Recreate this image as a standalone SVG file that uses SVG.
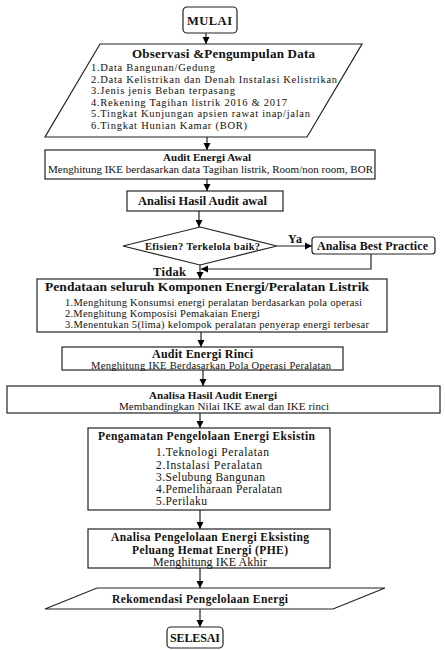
<svg xmlns="http://www.w3.org/2000/svg" width="445" height="650" viewBox="0 0 445 650">
<defs>
<marker id="ah" markerWidth="8" markerHeight="8" refX="7" refY="4" orient="auto" markerUnits="userSpaceOnUse">
<path d="M0,0.5 L7,4 L0,7.5 Z" fill="#000"/>
</marker>
<style>
.box{fill:#fff;stroke:#222;stroke-width:1.2}
.ln{fill:none;stroke:#222;stroke-width:1.2}
text{font-family:"Liberation Serif","Times New Roman",serif;fill:#111}
.b{font-weight:bold}
.c{text-anchor:middle}
</style>
</defs>
<rect width="445" height="650" fill="#fff"/>
<g id="connectors">
<line class="ln" x1="206" y1="33" x2="206" y2="44" marker-end="url(#ah)"/>
<line class="ln" x1="207" y1="137" x2="207" y2="150" marker-end="url(#ah)"/>
<line class="ln" x1="207" y1="179" x2="207" y2="191" marker-end="url(#ah)"/>
<line class="ln" x1="199" y1="211" x2="199" y2="227" marker-end="url(#ah)"/>
<line class="ln" x1="277" y1="246" x2="312" y2="246" marker-end="url(#ah)"/>
<polyline class="ln" points="371,254 371,269 201,269" marker-end="url(#ah)"/>
<line class="ln" x1="200" y1="265" x2="200" y2="279" marker-end="url(#ah)"/>
<line class="ln" x1="201" y1="332" x2="201" y2="347" marker-end="url(#ah)"/>
<line class="ln" x1="203" y1="370" x2="203" y2="386" marker-end="url(#ah)"/>
<line class="ln" x1="200" y1="413" x2="200" y2="428" marker-end="url(#ah)"/>
<line class="ln" x1="200" y1="510" x2="200" y2="529" marker-end="url(#ah)"/>
<line class="ln" x1="200" y1="568" x2="200" y2="588" marker-end="url(#ah)"/>
<line class="ln" x1="200" y1="609" x2="200" y2="627" marker-end="url(#ah)"/>
<text class="b" x="288" y="243" font-size="12" textLength="14">Ya</text>
<text class="b" x="153" y="276" font-size="12.5" textLength="33">Tidak</text>
</g>
<g id="mulai">
<rect class="box" x="183" y="7" width="54" height="26" rx="4"/>
<text class="b" x="187" y="24.5" font-size="12.5" textLength="45">MULAI</text>
</g>
<g id="observasi">
<polygon class="box" points="100,44 362,44 307,137 45,137"/>
<text class="b" x="132" y="57.5" font-size="13" textLength="183">Observasi &amp;Pengumpulan Data</text>
<text x="91" y="71" font-size="10.5" textLength="124">1.Data Bangunan/Gedung</text>
<text x="91" y="82.5" font-size="10.5" textLength="246">2.Data Kelistrikan dan Denah Instalasi Kelistrikan</text>
<text x="91" y="94" font-size="10.5" textLength="144">3.Jenis jenis Beban terpasang</text>
<text x="91" y="105.5" font-size="10.5" textLength="196">4.Rekening Tagihan listrik 2016 &amp; 2017</text>
<text x="91" y="117" font-size="10.5" textLength="219">5.Tingkat Kunjungan apsien rawat inap/jalan</text>
<text x="91" y="128.5" font-size="10.5" textLength="156">6.Tingkat Hunian Kamar (BOR)</text>
</g>
<g id="audit-awal">
<rect class="box" x="45" y="150" width="330" height="29"/>
<text class="b" x="163" y="161" font-size="11" textLength="88">Audit Energi Awal</text>
<text x="48" y="172.5" font-size="11" textLength="325">Menghitung IKE berdasarkan data Tagihan listrik, Room/non room, BOR</text>
</g>
<g id="analisi-awal">
<rect class="box" x="127" y="191" width="156" height="20"/>
<text class="b" x="138" y="205" font-size="12.4" textLength="129">Analisi Hasil Audit awal</text>
</g>
<g id="decision">
<polygon class="box" points="200,227 277,246 200,265 123,246"/>
<text class="b" x="145" y="249.5" font-size="10.5" textLength="115">Efisien? Terkelola baik?</text>
</g>
<g id="best-practice">
<rect class="box" x="312" y="237" width="123" height="17" rx="3"/>
<text class="b" x="317" y="250" font-size="12" textLength="111">Analisa Best Practice</text>
</g>
<g id="pendataan">
<rect class="box" x="37" y="279" width="350" height="53"/>
<text class="b" x="45" y="290.5" font-size="13.5" textLength="324">Pendataan seluruh Komponen Energi/Peralatan Listrik</text>
<text x="65" y="306" font-size="10.5" textLength="297">1.Menghitung Konsumsi energi peralatan berdasarkan pola operasi</text>
<text x="65" y="317" font-size="10.5" textLength="195">2.Menghitung Komposisi Pemakaian Energi</text>
<text x="65" y="328" font-size="10.5" textLength="304">3.Menentukan 5(lima) kelompok  peralatan penyerap energi terbesar</text>
</g>
<g id="audit-rinci">
<rect class="box" x="62" y="347" width="281" height="23"/>
<text class="b" x="152" y="358" font-size="12" textLength="101">Audit Energi Rinci</text>
<text x="91" y="368.5" font-size="10.5" textLength="240">Menghitung IKE Berdasarkan Pola Operasi Peralatan</text>
</g>
<g id="analisa-hasil">
<rect class="box" x="7" y="386" width="433" height="27"/>
<text class="b" x="149" y="399" font-size="11" textLength="128">Analisa Hasil Audit Energi</text>
<text x="119" y="410" font-size="11" textLength="210">Membandingkan Nilai IKE awal dan IKE rinci</text>
</g>
<g id="pengamatan">
<rect class="box" x="88" y="428" width="242" height="82"/>
<text class="b" x="98" y="439.5" font-size="11.5" textLength="217">Pengamatan Pengelolaan Energi Eksistin</text>
<text x="156" y="456" font-size="11.5" textLength="113">1.Teknologi Peralatan</text>
<text x="156" y="468.5" font-size="11.5" textLength="106">2.Instalasi Peralatan</text>
<text x="156" y="480.5" font-size="11.5" textLength="109">3.Selubung Bangunan</text>
<text x="156" y="492.5" font-size="11.5" textLength="126">4.Pemeliharaan Peralatan</text>
<text x="156" y="504.5" font-size="11.5" textLength="51">5.Perilaku</text>
</g>
<g id="analisa-pengelolaan">
<rect class="box" x="88" y="529" width="242" height="39"/>
<text class="b" x="111" y="541" font-size="11.5" textLength="198">Analisa Pengelolaan Energi Eksisting</text>
<text class="b" x="132" y="553.5" font-size="11.5" textLength="156">Peluang Hemat Energi (PHE)</text>
<text x="153" y="565.5" font-size="12" textLength="114">Menghitung IKE Akhir</text>
</g>
<g id="rekomendasi">
<polygon class="box" points="97,588 385,588 333,609 45,609"/>
<text class="b" x="112" y="603" font-size="11.5" textLength="176">Rekomendasi Pengelolaan Energi</text>
</g>
<g id="selesai">
<rect class="box" x="167" y="627" width="56" height="21" rx="4"/>
<text class="b" x="170" y="642" font-size="12" textLength="50">SELESAI</text>
</g>
</svg>
